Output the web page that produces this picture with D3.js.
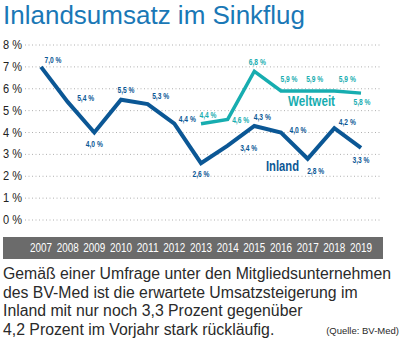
<!DOCTYPE html>
<html>
<head>
<meta charset="utf-8">
<script src="https://cdn.jsdelivr.net/npm/d3@7"></script>
<style>
  body { margin: 0; background: #fff; }
  svg { display: block; }
</style>
</head>
<body>
<div id="chart"></div>
<script>
// data
const years = ['2007','2008','2009','2010','2011','2012','2013','2014','2015','2016','2017','2018','2019'];
const inland = [7.0, 5.4, 4.0, 5.5, 5.3, 4.4, 2.6, 3.4, 4.3, 4.0, 2.8, 4.2, 3.3];
const weltweit = [null, null, null, null, null, null, 4.4, 4.6, 6.8, 5.9, 5.9, 5.9, 5.8];
const yTicks = [0, 1, 2, 3, 4, 5, 6, 7, 8];
const captionLines = [
  'Gemäß einer Umfrage unter den Mitgliedsunternehmen',
  'des BV-Med ist die erwartete Umsatzsteigerung im',
  'Inland mit nur noch 3,3 Prozent gegenüber',
  '4,2 Prozent im Vorjahr stark rückläufig.'
];

// label nudges (px) so the value labels sit like in the print layout
const inlandOffsets = [[12,-7],[18,-4],[0,11],[5,-10],[13,-8],[13,-5],[0,11],[21,2],[8,-9],[17,-3],[8,12],[13,-6],[0,12]];
const weltOffsets = [null,null,null,null,null,null,[7,-9],[13,1],[3,-9],[8,-12],[7,-12],[13,-12],[1,9]];

const width = 410, height = 347;
const dark = '#0b5795', teal = '#17adb0';
const sans = '"Liberation Sans", Arial, sans-serif';

const svg = d3.select('#chart').append('svg')
  .attr('width', width)
  .attr('height', height);

// title
svg.append('text')
  .attr('x', 3)
  .attr('y', 24)
  .attr('fill', '#1a78b6')
  .style('font-family', sans)
  .style('font-size', '26px')
  .text('Inlandsumsatz im Sinkflug');

const x = d3.scalePoint()
  .domain(years)
  .range([41, 361]);

const y = d3.scaleLinear()
  .domain([0, 8])
  .range([220, 45]);

// grid lines
svg.append('g')
  .selectAll('line')
  .data(yTicks)
  .enter()
  .append('line')
  .attr('x1', 25)
  .attr('x2', 382)
  .attr('y1', d => y(d))
  .attr('y2', d => y(d))
  .attr('stroke', '#b0b0b0')
  .attr('stroke-width', 1)
  .attr('stroke-dasharray', '1,2.5');

// y tick labels
svg.append('g')
  .selectAll('text')
  .data(yTicks)
  .enter()
  .append('text')
  .attr('x', 3)
  .attr('y', d => y(d) + 4)
  .attr('fill', '#222')
  .style('font-family', sans)
  .style('font-size', '12px')
  .attr('textLength', 19)
  .attr('lengthAdjust', 'spacingAndGlyphs')
  .text(d => d + ' %');

// year band
svg.append('rect')
  .attr('x', 3)
  .attr('y', 237)
  .attr('width', 380)
  .attr('height', 22)
  .attr('fill', '#6b6b6b');

svg.append('g')
  .selectAll('text')
  .data(years)
  .enter()
  .append('text')
  .attr('x', d => x(d) - 11)
  .attr('y', 252)
  .attr('fill', '#fff')
  .style('font-family', sans)
  .style('font-size', '12px')
  .attr('textLength', 22)
  .attr('lengthAdjust', 'spacingAndGlyphs')
  .text(d => d);

const line = d3.line()
  .defined(d => d.v != null)
  .x(d => x(d.year))
  .y(d => y(d.v));

const inlandData = years.map((year, i) => ({ year, v: inland[i], off: inlandOffsets[i] }));
const weltData = years.map((year, i) => ({ year, v: weltweit[i], off: weltOffsets[i] }));

svg.append('path')
  .datum(weltData)
  .attr('d', line)
  .attr('fill', 'none')
  .attr('stroke', teal)
  .attr('stroke-width', 3.5)
  .attr('stroke-linejoin', 'miter');

svg.append('path')
  .datum(inlandData)
  .attr('d', line)
  .attr('fill', 'none')
  .attr('stroke', dark)
  .attr('stroke-width', 4)
  .attr('stroke-linejoin', 'miter');

const fmt = v => v.toFixed(1).replace('.', ',') + ' %';

function valueLabels(data, color) {
  svg.append('g')
    .selectAll('text')
    .data(data.filter(d => d.v != null))
    .enter()
    .append('text')
    .attr('x', d => x(d.year) + d.off[0] - 8.5)
    .attr('y', d => y(d.v) + d.off[1] + 3)
    .attr('fill', color)
    .style('font-family', sans)
    .style('font-size', '9px')
    .style('font-weight', 'bold')
    .attr('textLength', 17)
    .attr('lengthAdjust', 'spacingAndGlyphs')
    .text(d => fmt(d.v));
}
valueLabels(weltData, teal);
valueLabels(inlandData, dark);

// series names
svg.append('text')
  .attr('x', 288)
  .attr('y', 106)
  .attr('fill', teal)
  .style('font-family', sans)
  .style('font-size', '14px')
  .style('font-weight', 'bold')
  .attr('textLength', 47)
  .attr('lengthAdjust', 'spacingAndGlyphs')
  .text('Weltweit');

svg.append('text')
  .attr('x', 266)
  .attr('y', 171)
  .attr('fill', dark)
  .style('font-family', sans)
  .style('font-size', '14px')
  .style('font-weight', 'bold')
  .attr('textLength', 33)
  .attr('lengthAdjust', 'spacingAndGlyphs')
  .text('Inland');

// caption
svg.append('g')
  .selectAll('text')
  .data(captionLines)
  .enter()
  .append('text')
  .attr('x', 3)
  .attr('y', (d, i) => 279 + i * 18.5)
  .attr('fill', '#2a2a2a')
  .style('font-family', sans)
  .style('font-size', '15.8px')
  .text(d => d);

svg.append('text')
  .attr('x', 399)
  .attr('y', 334)
  .attr('text-anchor', 'end')
  .attr('fill', '#2a2a2a')
  .style('font-family', sans)
  .style('font-size', '9.5px')
  .text('(Quelle: BV-Med)');
</script>
</body>
</html>
